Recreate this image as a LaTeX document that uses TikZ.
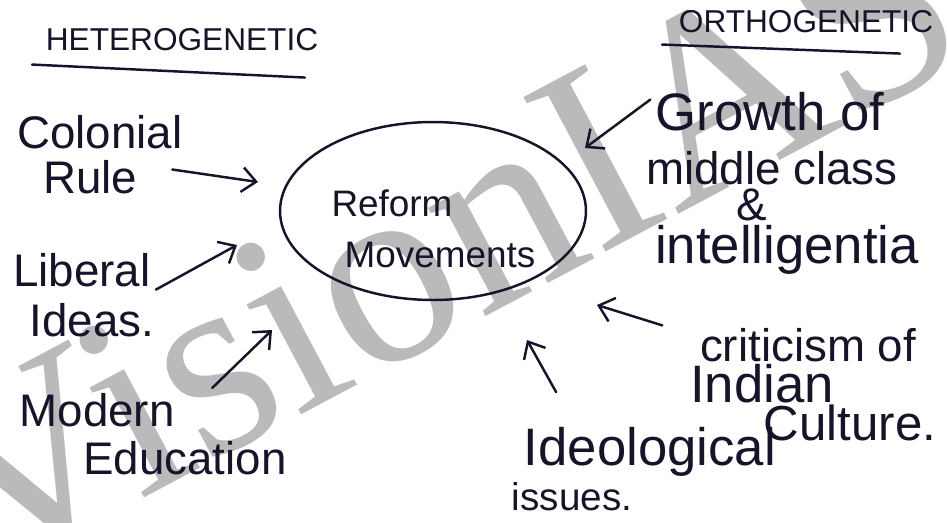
\documentclass[tikz,border=0pt]{standalone}
\usepackage{fontspec}
\setmainfont{Liberation Sans}
\newfontfamily\markfont{Liberation Serif}
\usetikzlibrary{arrows.meta,shapes.geometric}

\definecolor{ink}{RGB}{20,20,42}
\tikzset{
  hand/.style={text=ink, inner sep=0pt, font=\fontsize{26}{30}\selectfont},
  bighand/.style={hand, font=\fontsize{30}{34}\selectfont},
  smallhand/.style={hand, font=\fontsize{21}{25}\selectfont},
  heading/.style={hand, font=\fontsize{18}{21}\selectfont},
  pen/.style={draw=ink, line width=1.4pt, line cap=round},
  push/.style={pen, -{Straight Barb[length=8pt, width=14pt, line width=1.4pt]}},
}

\begin{document}
\begin{tikzpicture}[x=0.02cm, y=-0.02cm]
    \useasboundingbox (0,0) rectangle (947,522);
    \node[rotate=28, text=black!27, font=\markfont\fontsize{152}{152}\selectfont] (mark) at (440,243) {VisionIAS};

    \node[heading] (hetero) at (182,40) {HETEROGENETIC};
    \node[heading] (ortho) at (806,22) {ORTHOGENETIC};
    \draw[pen] ([xshift=-3cm,yshift=-0.26cm]hetero.south) -- ([xshift=2.46cm,yshift=-0.52cm]hetero.south);
    \draw[pen] ([xshift=-2.88cm,yshift=-0.22cm]ortho.south) -- ([xshift=1.88cm,yshift=-0.4cm]ortho.south);

    \node[ellipse, pen, minimum width=6.12cm, minimum height=3.56cm] (loop) at (433,211) {};
    \node[smallhand] (reform) at (392,203) {Reform};
    \node[smallhand] (moves) at (440,255) {Movements};

    \node[hand] (colonial) at (100,132) {Colonial};
    \node[hand] (rule) at (90,177) {Rule};
    \node[hand] (liberal) at (82,270) {Liberal};
    \node[hand] (ideas) at (92,320) {Ideas.};
    \node[hand] (modern) at (97,410) {Modern};
    \node[hand] (educ) at (185,458) {Education};

    \node[bighand] (growth) at (770,112) {Growth of};
    \node[hand] (middle) at (772,168) {middle class};
    \node[hand] (amp) at (752,205) {\&};
    \node[bighand] (intel) at (787,250) {intelligentia};
    \node[hand] (critic) at (808,345) {criticism of};
    \node[bighand] (indian) at (762,384) {Indian};
    \node[hand, font=\fontsize{28}{32}\selectfont] (culture) at (850,423) {Culture.};
    \node[bighand] (ideo) at (650,452) {Ideological};
    \node[hand, font=\fontsize{22}{26}\selectfont] (issues) at (572,497) {issues.};

    \coordinate (ruleTip) at (258,182);
    \coordinate (liberalTip) at (237,245);
    \coordinate (modernTip) at (272,330);
    \coordinate (growthTip) at (585,148);
    \coordinate (criticTip) at (597,305);
    \coordinate (ideoTip) at (527,340);

    \draw[push] ([xshift=0.7cm,yshift=0.15cm]rule.east) -- (ruleTip);
    \draw[push] ([xshift=0.1cm,yshift=-0.05cm]liberal.south east) -- (liberalTip);
    \draw[push] ([xshift=0.75cm,yshift=0.1cm]modern.north east) -- (modernTip);
    \draw[push] ([xshift=-0.1cm,yshift=0.25cm]growth.west) -- (growthTip);
    \draw[push] ([xshift=-0.75cm,yshift=0.05cm]critic.north west) -- (criticTip);
    \draw[push] ([xshift=0.65cm,yshift=0.7cm]ideo.north west) -- (ideoTip);
\end{tikzpicture}
\end{document}
